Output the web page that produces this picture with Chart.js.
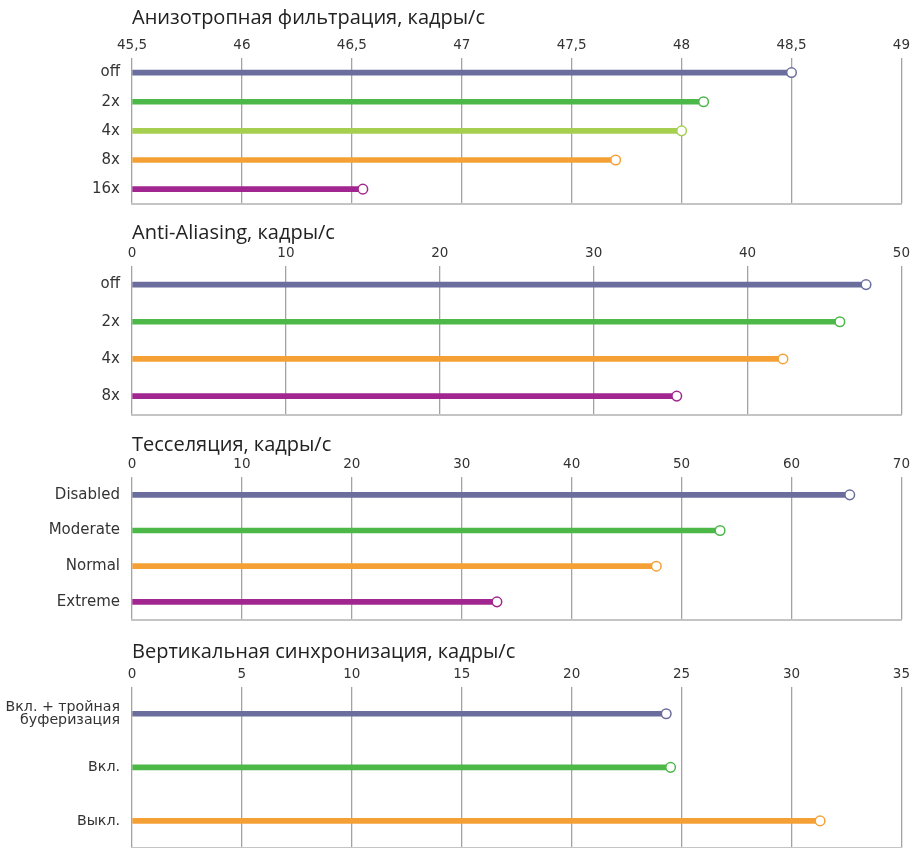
<!DOCTYPE html>
<html>
<head>
<meta charset="utf-8">
<script src="https://cdn.jsdelivr.net/npm/chart.js@4"></script>
<style>
  html, body { margin: 0; padding: 0; background: #fff; }
  body { width: 914px; height: 848px; position: relative; overflow: hidden; }
  .panel { position: absolute; left: 0; width: 914px; }
</style>
</head>
<body>
<div class="panel" id="p1" style="top:0px;height:210px"><canvas id="c1"></canvas></div>
<div class="panel" id="p2" style="top:212px;height:209px"><canvas id="c2"></canvas></div>
<div class="panel" id="p3" style="top:422px;height:204px"><canvas id="c3"></canvas></div>
<div class="panel" id="p4" style="top:628px;height:226px"><canvas id="c4"></canvas></div>
<script>
// ---------- DATA ----------
const afTitle = 'Анизотропная фильтрация, кадры/с';
const afCategories = ['off', '2x', '4x', '8x', '16x'];
const afValues = [48.5, 48.1, 48.0, 47.7, 46.55];
const afAxis = [45.5, 49, 0.5]; // min, max, step

const aaTitle = 'Anti-Aliasing, кадры/с';
const aaCategories = ['off', '2x', '4x', '8x'];
const aaValues = [47.7, 46.0, 42.3, 35.4];
const aaAxis = [0, 50, 10];

const tsTitle = 'Тесселяция, кадры/с';
const tsCategories = ['Disabled', 'Moderate', 'Normal', 'Extreme'];
const tsValues = [65.3, 53.5, 47.7, 33.2];
const tsAxis = [0, 70, 10];

const vsTitle = 'Вертикальная синхронизация, кадры/с';
const vsCategories = [['Вкл. + тройная', 'буферизация'], 'Вкл.', 'Выкл.'];
const vsValues = [24.3, 24.5, 31.3];
const vsAxis = [0, 35, 5];

// ---------- STYLE ----------
const C_BLUE = '#6b6e9d', C_GREEN = '#4cb848', C_LGREEN = '#a6cf4f',
      C_ORANGE = '#f5a035', C_MAGENTA = '#a2268f';
const TITLE_FONT = '"Open Sans", "Noto Sans", sans-serif';
const LABEL_FONT = '"DejaVu Sans", "Noto Sans", sans-serif';

function makeChart(id, title, cats, vals, axis, colors, axisH, titlePad, bottomPad, labelSize, labelLH) {
  const [mn, mx, step] = axis;
  return new Chart(document.getElementById(id), {
    type: 'bar',
    data: {
      labels: cats,
      datasets: [
        {
          type: 'line',
          data: vals,
          indexAxis: 'y',
          showLine: false,
          pointStyle: 'circle',
          pointRadius: 4.8,
          pointBorderWidth: 1.5,
          pointBackgroundColor: '#ffffff',
          pointBorderColor: colors,
          order: 0,
          clip: false
        },
        {
          type: 'bar',
          data: vals,
          base: mn,
          backgroundColor: colors,
          borderWidth: 0,
          barThickness: 5,
          order: 1
        }
      ]
    },
    options: {
      indexAxis: 'y',
      responsive: true,
      maintainAspectRatio: false,
      animation: false,
      events: [],
      layout: { padding: { left: 0, right: 12, top: 0, bottom: bottomPad } },
      plugins: { legend: { display: false }, tooltip: { enabled: false } },
      scales: {
        x: {
          position: 'top',
          min: mn, max: mx,
          afterFit: s => { s.height = axisH; },
          ticks: {
            stepSize: step,
            padding: 4,
            color: '#333',
            font: { family: LABEL_FONT, size: 13.5 },
            maxRotation: 0,
            callback: v => String(v).replace('.', ',')
          },
          grid: { color: '#a3a3a3', lineWidth: 1.3, drawTicks: false },
          border: { display: false },
          title: {
            display: true, text: title, align: 'start',
            color: '#222',
            font: { family: TITLE_FONT, size: 20 },
            padding: { top: titlePad, bottom: 0 }
          }
        },
        x2: {
          position: 'bottom',
          min: mn, max: mx,
          afterFit: s => { s.height = 0; },
          ticks: { display: false },
          grid: { display: false, drawTicks: false },
          border: { display: true, color: '#c4c4c4', width: 2 }
        },
        y: {
          afterFit: s => { s.width = 132; s.paddingTop = 0; s.paddingBottom = 0; },
          ticks: {
            padding: 12,
            color: '#333',
            font: { family: LABEL_FONT, size: labelSize, lineHeight: labelLH }
          },
          grid: { display: false, drawTicks: false },
          border: { display: false }
        }
      }
    }
  });
}

makeChart('c1', afTitle, afCategories, afValues, afAxis,
  [C_BLUE, C_GREEN, C_LGREEN, C_ORANGE, C_MAGENTA], 58, 6, 4, 15, 1.2);
makeChart('c2', aaTitle, aaCategories, aaValues, aaAxis,
  [C_BLUE, C_GREEN, C_ORANGE, C_MAGENTA], 54, 9, 4, 15, 1.2);
makeChart('c3', tsTitle, tsCategories, tsValues, tsAxis,
  [C_BLUE, C_GREEN, C_ORANGE, C_MAGENTA], 55, 11, 4, 15, 1.2);
makeChart('c4', vsTitle, vsCategories, vsValues, vsAxis,
  [C_BLUE, C_GREEN, C_ORANGE], 59, 12, 4, 14.2, 0.88);
</script>
</body>
</html>
